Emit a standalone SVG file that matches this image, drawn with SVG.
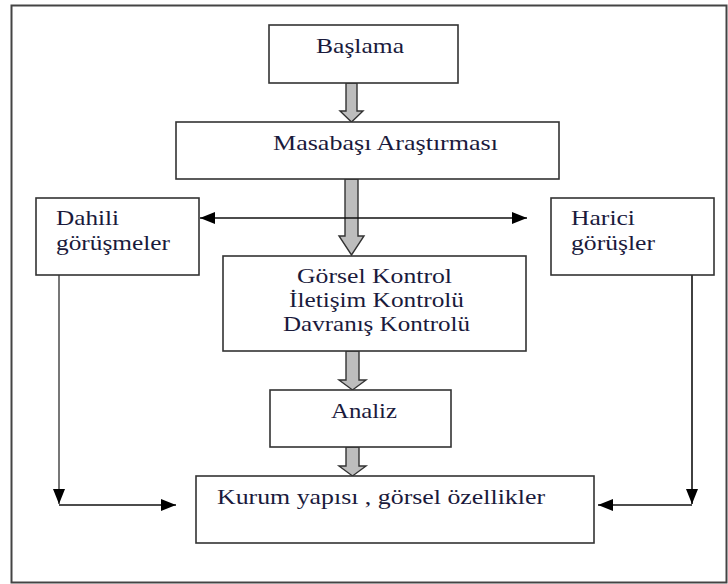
<svg xmlns="http://www.w3.org/2000/svg" width="728" height="584" viewBox="0 0 728 584">
<style>
.box{fill:#fff;stroke:#333;stroke-width:1.6}
.t{font-family:"Liberation Serif","Times New Roman",serif;font-size:21px;fill:#1a1a3c}
.blk{fill:#bdbdbd;stroke:#333;stroke-width:1.4;stroke-linejoin:miter}
.ln{fill:none;stroke:#111;stroke-width:1.6}
.lg{fill:none;stroke:#777;stroke-width:2}
</style>
<defs>
<marker id="ah" viewBox="0 0 15 12" refX="15" refY="6" markerWidth="15" markerHeight="12" markerUnits="userSpaceOnUse" orient="auto-start-reverse">
<path d="M0,0 L15,6 L0,12 Z" fill="#000"/>
</marker>
</defs>
<rect x="11.5" y="5.5" width="715" height="577" fill="#fff" stroke="#444" stroke-width="2"/>
<g id="connectors">
<path class="blk" d="M346,83 H357 V111 H363 L351.5,122 L340,111 H346 Z"/>
<path class="blk" d="M345,179 H358 V236 H364 L351.5,255 L339,236 H345 Z"/>
<path class="blk" d="M346,351 H359 V380 H366 L352.5,390 L339,380 H346 Z"/>
<path class="blk" d="M346,447 H359 V466 H366 L352.5,476 L339,466 H346 Z"/>
<line class="ln" x1="200" y1="218" x2="527" y2="218" marker-start="url(#ah)" marker-end="url(#ah)"/>
<line class="lg" x1="59" y1="275" x2="59" y2="504" marker-end="url(#ah)"/>
<line class="ln" x1="59" y1="505" x2="176" y2="505" marker-end="url(#ah)"/>
<line class="ln" x1="692" y1="275" x2="692" y2="504" marker-end="url(#ah)"/>
<line class="ln" x1="692" y1="505" x2="598" y2="505" marker-end="url(#ah)"/>
</g>
<g id="baslama">
<rect class="box" x="269" y="25" width="189" height="58"/>
<text class="t" x="316" y="53" textLength="88" lengthAdjust="spacingAndGlyphs">Başlama</text>
</g>
<g id="masabasi">
<rect class="box" x="176" y="122" width="383" height="57"/>
<text class="t" x="273" y="150" textLength="225" lengthAdjust="spacingAndGlyphs">Masabaşı Araştırması</text>
</g>
<g id="dahili">
<rect class="box" x="36" y="198" width="163" height="77"/>
<text class="t" x="56" y="225" textLength="63" lengthAdjust="spacingAndGlyphs">Dahili</text>
<text class="t" x="56" y="250" textLength="114" lengthAdjust="spacingAndGlyphs">görüşmeler</text>
</g>
<g id="harici">
<rect class="box" x="551" y="198" width="163" height="77"/>
<text class="t" x="571" y="225" textLength="64" lengthAdjust="spacingAndGlyphs">Harici</text>
<text class="t" x="571" y="250" textLength="84" lengthAdjust="spacingAndGlyphs">görüşler</text>
</g>
<g id="kontrol">
<rect class="box" x="223" y="256" width="303" height="95"/>
<text class="t" x="297" y="283" textLength="155" lengthAdjust="spacingAndGlyphs">Görsel Kontrol</text>
<text class="t" x="289" y="307" textLength="175" lengthAdjust="spacingAndGlyphs">İletişim Kontrolü</text>
<text class="t" x="283" y="331" textLength="187" lengthAdjust="spacingAndGlyphs">Davranış Kontrolü</text>
</g>
<g id="analiz">
<rect class="box" x="270" y="390" width="181" height="57"/>
<text class="t" x="331" y="418" textLength="66" lengthAdjust="spacingAndGlyphs">Analiz</text>
</g>
<g id="kurum">
<rect class="box" x="196" y="476" width="398" height="67"/>
<text class="t" x="217" y="504" textLength="328" lengthAdjust="spacingAndGlyphs">Kurum yapısı , görsel özellikler</text>
</g>
</svg>
